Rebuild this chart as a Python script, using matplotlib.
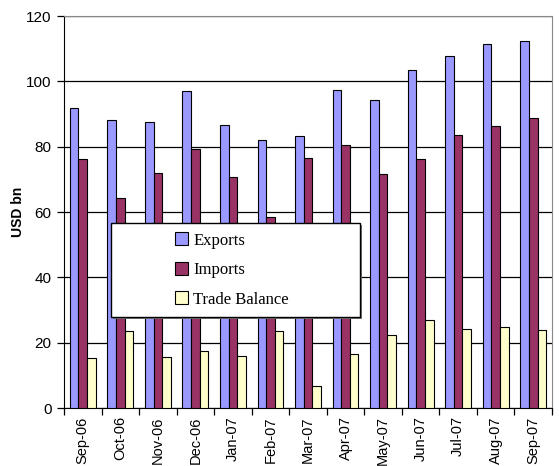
import matplotlib
matplotlib.use("Agg")
import matplotlib.pyplot as plt
import numpy as np
from matplotlib.patches import Rectangle

months = ["Sep-06", "Oct-06", "Nov-06", "Dec-06", "Jan-07", "Feb-07", "Mar-07",
          "Apr-07", "May-07", "Jun-07", "Jul-07", "Aug-07", "Sep-07"]
exports = [91.7, 88.2, 87.4, 97.0, 86.6, 82.0, 83.4, 97.5, 94.2, 103.4, 107.7, 111.5, 112.5]
imports = [76.2, 64.3, 71.8, 79.2, 70.6, 58.4, 76.4, 80.5, 71.5, 76.2, 83.5, 86.3, 88.7]
trade_balance = [15.2, 23.7, 15.5, 17.5, 15.8, 23.6, 6.7, 16.6, 22.3, 26.8, 24.3, 24.8, 23.8]
yticks = [0, 20, 40, 60, 80, 100, 120]

W, H = 559, 466
fig = plt.figure(figsize=(W / 100, H / 100), dpi=100)
ax = fig.add_axes([64 / W, 1 - 408 / H, 488 / W, 392 / H])

x = np.arange(len(months))
bw = 0.23
kw = dict(edgecolor="black", linewidth=0.8, zorder=3)
ax.bar(x - bw, exports, bw, color="#9999FF", label="Exports", **kw)
ax.bar(x, imports, bw, color="#993366", label="Imports", **kw)
ax.bar(x + bw, trade_balance, bw, color="#FFFFCC", label="Trade Balance", **kw)

ax.set_xlim(-0.5, len(months) - 0.5)
ax.set_ylim(0, 120)
ax.set_yticks(yticks)
ax.set_yticklabels([str(v) for v in yticks], fontsize=11, family="Liberation Sans")
ax.yaxis.grid(True, color="black", linewidth=0.9, zorder=0)
ax.set_axisbelow(True)

ax.set_xticks(np.arange(len(months) + 1) - 0.5, minor=False)
ax.set_xticklabels([])
ax.set_xticks(x, minor=True)
ax.set_xticklabels(months, minor=True, rotation=90, fontsize=10.5, family="Liberation Sans")
ax.tick_params(axis="x", which="minor", length=0, pad=6)
ax.tick_params(axis="x", which="major", length=5, direction="out", width=0.9)
ax.tick_params(axis="y", length=5, direction="out", width=0.9, pad=4)

ax.spines["left"].set_color("black")
ax.spines["bottom"].set_color("black")
ax.spines["top"].set_color("#888888")
ax.spines["right"].set_color("#888888")

ax.set_ylabel("USD bn", fontsize=10, fontweight="bold", family="Liberation Sans", labelpad=1)

# legend box
lx0, lx1 = (111 - 64) / 488, (360 - 64) / 488
ly1, ly0 = (408 - 223) / 392, (408 - 317) / 392
ax.add_patch(Rectangle((lx0 + 0.004, ly0 - 0.006), lx1 - lx0, ly1 - ly0, transform=ax.transAxes,
                       facecolor="#777777", edgecolor="none", zorder=9))
ax.add_patch(Rectangle((lx0, ly0), lx1 - lx0, ly1 - ly0, transform=ax.transAxes,
                       facecolor="white", edgecolor="black", linewidth=1.0, zorder=10))
leg = ax.legend(loc="center left", bbox_to_anchor=((160 - 64) / 488, (ly0 + ly1) / 2),
                frameon=False, prop={"family": "Liberation Serif", "size": 12},
                labelspacing=0.8, handlelength=0.8, handleheight=0.8, handletextpad=0.3)
leg.set_zorder(11)

fig.savefig("out.png", dpi=100)
